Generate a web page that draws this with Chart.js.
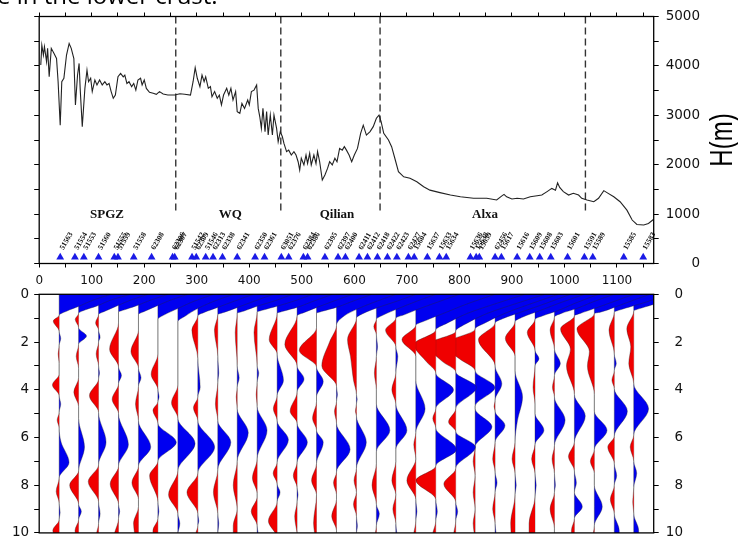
<!DOCTYPE html>
<html>
<head>
<meta charset="utf-8">
<script src="https://cdn.jsdelivr.net/npm/chart.js@4.4.1/dist/chart.umd.min.js"></script>
<style>
  html, body { margin: 0; padding: 0; background: #fff; }
  #wrap { position: relative; width: 738px; height: 548px; overflow: hidden; }
  #wrap canvas { position: absolute; left: 0; top: 0; }
</style>
</head>
<body>
<div id="wrap">
  <canvas id="rfChart" width="738" height="548"></canvas>
  <canvas id="topoChart" width="738" height="548"></canvas>
</div>
<script>
// elevation along the profile
const profileKm = [3, 5, 8, 10, 14, 16, 19, 23, 28, 33, 36, 40, 43, 47, 52, 57, 61, 66, 69, 73, 76, 78, 82, 87, 91, 94, 98, 101, 106, 110,
  115, 120, 125, 129, 133, 137, 141, 145, 150, 155, 160, 163, 167, 171, 176, 180, 184, 188, 193, 196, 200, 204, 210, 217, 223, 229, 236, 245, 258, 268,
  277, 288, 293, 297, 301, 306, 310, 314, 317, 322, 326, 329, 334, 339, 343, 347, 351, 357, 361, 365, 369, 374, 377, 382, 386, 391, 397, 400, 404, 409,
  414, 417, 420, 423, 426, 430, 433, 436, 440, 444, 447, 452, 455, 459, 463, 466, 471, 475, 480, 485, 489, 493, 496, 499, 504, 508, 511, 515, 518, 523,
  527, 530, 534, 539, 544, 549, 553, 558, 563, 567, 572, 577, 581, 585, 590, 595, 600, 606, 612, 617, 623, 630, 636, 642, 647, 651, 656, 665, 671, 678,
  684, 694, 706, 719, 732, 744, 763, 783, 802, 827, 852, 871, 881, 885, 890, 900, 910, 922, 935, 948, 957, 967, 976, 983, 987, 991, 998, 1008, 1017, 1027,
  1033, 1043, 1056, 1065, 1075, 1081, 1094, 1106, 1119, 1129, 1138, 1151, 1160, 1170];
const elevationM = [4020, 4420, 4220, 4390, 4085, 4355, 3780, 4355, 4255, 4150, 3680, 2800, 3680, 3750, 4220, 4455, 4355, 4150, 3210, 3815, 4050, 3545, 2770, 3545, 3915, 3680, 3750, 3480, 3715, 3615,
  3715, 3615, 3680, 3615, 3645, 3480, 3345, 3410, 3780, 3850, 3780, 3815, 3645, 3680, 3580, 3645, 3510, 3715, 3750, 3615, 3715, 3545, 3465, 3445, 3425, 3480, 3430, 3410, 3410, 3435,
  3425, 3410, 3680, 3965, 3750, 3580, 3815, 3680, 3780, 3545, 3580, 3375, 3480, 3345, 3410, 3210, 3410, 3545, 3410, 3545, 3310, 3480, 3075, 3040, 3240, 3140, 3310, 3210, 3480, 3510,
  3615, 3140, 2970, 2735, 3140, 2670, 3075, 2600, 3005, 2600, 3005, 2735, 2465, 2670, 2565, 2430, 2265, 2295, 2195, 2265, 2195, 2060, 1890, 2130, 1995, 2195, 2025, 2230, 1995, 2195,
  2025, 2265, 2060, 1690, 1790, 1925, 2060, 1995, 2130, 2060, 2330, 2295, 2365, 2295, 2195, 2060, 2195, 2330, 2635, 2800, 2600, 2670, 2770, 2940, 3005, 2870, 2635, 2500, 2365, 2095,
  1860, 1755, 1725, 1655, 1555, 1485, 1435, 1385, 1350, 1320, 1320, 1285, 1370, 1400, 1350, 1305, 1320, 1305, 1350, 1370, 1385, 1455, 1520, 1485, 1635, 1540, 1455, 1385, 1420, 1385,
  1320, 1285, 1250, 1320, 1475, 1435, 1350, 1250, 1080, 880, 790, 780, 810, 895];

// seismic stations
const stationNames = ['51563', '51554', '51553', '51560', '51555', '51559', '51558', '62308', '62306', '62307', '51542', '62309', '51546', '62313', '62338', '62341', '62350', '62361', '63051', '62376',
  '62384', '62386', '62395', '62397', '62400', '62411', '62412', '62418', '62422', '62423', '62427', '15604', '15637', '15633', '15634', '15636', '15638', '15639', '62456', '15617',
  '15616', '15609', '15608', '15603', '15601', '15591', '15589', '15585', '15583'];
const stationKm = [40, 68, 85, 113, 143, 150, 180, 214, 254, 258, 291, 299, 317, 331, 349, 377, 411, 429, 461, 475,
  503, 511, 544, 569, 583, 609, 625, 644, 663, 681, 703, 714, 739, 762, 775, 821, 832, 838, 868, 880,
  910, 934, 953, 974, 1006, 1038, 1054, 1113, 1150];

// tectonic units
const boundaryKm = [260, 460, 649, 1040];
const regionNames = ['SPGZ', 'WQ', 'Qilian', 'Alxa'];
const regionKm = [129, 364, 567, 849];

// receiver function bins: distance (km) and [time s, amplitude] samples
const binKm = [38, 75, 113, 151, 189, 226, 264, 302, 340, 377, 415, 453, 491, 528, 566, 604, 642, 679, 717, 755,
  793, 830, 868, 906, 944, 981, 1019, 1057, 1095, 1132];
const rfTraces = [
  [[0, 2.6], [0.25, 1.7], [0.5, 1.0], [0.7, 0.4], [0.88, 0], [1.12, -0.3], [1.55, 0], [1.85, 0.08], [2.15, 0], [2.5, -0.05], [2.9, 0], [3.35, 0], [3.8, -0.34], [4.25, 0], [4.6, 0.08], [4.95, 0], [5.27, -0.1], [5.6, 0], [6.2, 0.1], [7.05, 0.5], [7.7, 0], [8.26, -0.15], [8.75, 0], [9.15, 0.05], [9.45, 0], [9.9, -0.32], [10, -0.3]],
  [[0, 2.6], [0.25, 1.6], [0.5, 0.9], [0.65, 0.35], [0.8, 0], [1.05, -0.17], [1.4, 0], [1.75, 0.4], [2.1, 0], [2.6, -0.12], [3.1, 0], [3.5, 0], [4.1, -0.24], [4.7, 0], [5.2, 0], [6.4, 0.3], [7.4, 0], [8.0, -0.45], [8.8, 0], [9.1, 0.14], [9.45, 0], [9.9, -0.18], [10, -0.17]],
  [[0, 2.5], [0.25, 1.6], [0.5, 0.9], [0.7, 0.35], [0.85, 0], [1.2, -0.15], [1.5, 0], [1.8, 0.08], [2.0, 0], [2.5, -0.12], [3.0, 0], [3.3, 0.05], [3.55, 0], [4.25, -0.46], [4.95, 0], [6.2, 0.38], [7.15, 0], [7.85, -0.52], [8.7, 0], [9.2, 0.08], [9.6, 0], [10, -0.1]],
  [[0, 2.5], [0.25, 1.6], [0.5, 0.85], [0.65, 0.3], [0.75, 0], [1.2, 0], [2.3, -0.45], [3.05, 0], [3.4, 0.15], [3.75, 0], [4.4, -0.32], [5.0, 0], [6.3, 0.5], [7.2, 0], [7.95, -0.42], [8.8, 0], [9.1, 0.06], [9.4, 0], [10, -0.2]],
  [[0, 2.5], [0.25, 1.6], [0.5, 0.9], [0.7, 0.35], [0.85, 0], [1.5, 0], [2.4, -0.38], [3.1, 0], [3.5, 0.13], [3.85, 0], [4.6, -0.15], [5.3, 0], [6.4, 0.62], [7.2, 0], [7.9, -0.33], [8.6, 0], [8.9, 0], [9.6, -0.25], [10, -0.2]],
  [[0, 2.8], [0.3, 1.8], [0.6, 1.0], [0.85, 0.35], [1.05, 0], [2.5, 0], [3.35, -0.34], [4.0, 0], [4.3, 0.06], [4.5, 0], [4.86, -0.25], [5.4, 0], [6.2, 0.93], [7.0, 0], [7.6, -0.42], [8.7, 0], [9.1, 0.05], [9.4, 0], [9.9, -0.25], [10, -0.25]],
  [[0, 2.8], [0.3, 1.8], [0.6, 1.0], [0.9, 0.4], [1.15, 0], [3.8, 0], [4.55, -0.32], [5.2, 0], [6.25, 0.87], [7.4, 0], [8.4, -0.47], [9.2, 0], [9.6, 0.1], [10, 0]],
  [[0, 2.8], [0.3, 1.8], [0.55, 1.0], [0.75, 0.35], [0.9, 0], [1.5, -0.3], [2.7, 0], [3.9, 0.12], [4.3, 0], [4.75, -0.22], [5.3, 0], [6.4, 0.85], [7.5, 0], [8.3, -0.55], [9.2, 0], [9.5, 0.05], [9.7, 0], [10, -0.1]],
  [[0, 2.8], [0.3, 1.8], [0.55, 1.0], [0.75, 0.35], [0.85, 0], [1.5, -0.17], [2.6, 0], [3.3, 0.05], [3.7, 0], [4.6, -0.12], [5.3, 0], [6.2, 0.66], [7.35, 0], [8.3, -0.22], [9.2, 0], [9.6, 0.05], [10, 0]],
  [[0, 2.8], [0.3, 1.8], [0.5, 1.0], [0.7, 0.35], [0.8, 0], [1.6, -0.1], [3.0, 0], [3.5, 0.1], [3.9, 0], [4.3, -0.05], [4.8, 0], [5.8, 0.56], [7.0, 0], [8.0, -0.2], [9.0, 0], [9.7, -0.2], [10, -0.2]],
  [[0, 2.8], [0.3, 1.8], [0.5, 1.0], [0.65, 0.35], [0.75, 0], [1.6, -0.16], [3.0, 0], [3.3, 0.08], [3.7, 0], [4.2, -0.05], [4.7, 0], [5.7, 0.5], [6.9, 0], [7.7, -0.24], [8.35, 0], [8.5, 0], [9.1, -0.3], [9.7, 0], [10, 0.05]],
  [[0, 2.8], [0.3, 1.8], [0.55, 1.0], [0.7, 0.35], [0.8, 0], [1.9, -0.4], [2.5, 0], [3.6, 0.32], [4.25, 0], [4.8, -0.19], [5.3, 0], [6.1, 0.57], [7.05, 0], [7.5, -0.2], [7.95, 0], [8.3, 0.15], [8.7, 0], [9.5, -0.44], [10, -0.1]],
  [[0, 2.8], [0.3, 1.8], [0.55, 1.0], [0.75, 0.4], [0.9, 0], [2.1, -0.62], [3.0, 0], [3.55, 0.35], [4.1, 0], [4.9, -0.35], [5.4, 0], [6.2, 0.52], [7.05, 0], [7.6, -0.19], [8.1, 0], [8.4, 0.05], [8.7, 0], [9.3, -0.12], [10, 0]],
  [[0, 2.8], [0.3, 1.8], [0.55, 1.0], [0.7, 0.35], [0.8, 0], [1.4, 0], [2.35, -0.87], [3.05, 0], [3.65, 0.34], [4.3, 0], [4.5, 0], [5.2, -0.2], [5.7, 0], [6.2, 0.34], [7.1, 0], [7.8, -0.25], [8.4, 0], [9.6, -0.15], [10, -0.1]],
  [[0, 3.0], [0.3, 2.0], [0.6, 1.1], [0.9, 0.4], [1.3, 0], [2.0, -0.35], [3.0, -0.74], [3.85, 0], [4.2, 0.05], [4.5, 0], [4.9, -0.1], [5.4, 0], [6.5, 0.69], [7.45, 0], [7.9, -0.15], [8.4, 0], [8.6, 0], [9.3, -0.24], [9.9, 0], [10, 0]],
  [[0, 3.0], [0.3, 2.0], [0.55, 1.1], [0.8, 0.35], [1.0, 0], [1.9, -0.45], [2.6, -0.3], [3.6, -0.15], [4.2, 0], [4.4, 0.04], [4.6, 0], [4.9, -0.05], [5.1, 0], [6.2, 0.5], [7.3, 0], [7.8, -0.12], [8.3, 0], [8.8, -0.15], [9.3, 0], [9.7, 0.05], [10, 0]],
  [[0, 3.0], [0.3, 2.0], [0.6, 1.1], [0.85, 0.4], [1.05, 0], [1.35, -0.13], [1.7, 0], [2.2, 0.06], [2.6, 0], [3.3, -0.1], [4.0, 0], [4.6, 0], [5.7, 0.68], [6.6, 0], [7.1, 0], [8.0, -0.22], [8.8, 0], [9.2, 0.15], [9.7, 0], [10, -0.05]],
  [[0, 3.2], [0.3, 2.2], [0.6, 1.2], [0.85, 0.45], [1.0, 0], [1.5, -0.52], [2.2, 0], [2.6, 0.1], [3.3, 0], [4.0, -0.2], [4.6, 0], [5.7, 0.56], [6.5, 0], [7.0, 0], [7.8, -0.2], [8.4, 0], [9.0, -0.15], [9.6, 0], [10, 0.05]],
  [[0, 4.0], [0.4, 2.6], [0.8, 1.4], [1.1, 0.5], [1.3, 0], [1.9, -0.7], [2.6, 0], [3.6, 0], [4.8, 0.47], [5.8, 0], [6.3, -0.1], [6.9, 0], [7.8, -0.45], [8.6, 0], [9.1, 0.06], [9.5, 0], [10, -0.1]],
  [[0, 4.5], [0.4, 3.0], [0.8, 1.6], [1.2, 0.6], [1.5, 0], [2.1, -1.1], [2.8, -0.5], [3.3, 0], [4.0, 0.9], [4.8, 0], [5.2, -0.15], [5.6, 0], [6.5, 1.05], [7.2, 0], [7.8, -1.0], [8.6, 0], [9.1, 0.08], [9.5, 0], [10, -0.15]],
  [[0, 4.5], [0.4, 3.0], [0.8, 1.6], [1.2, 0.6], [1.55, 0], [2.1, -1.4], [2.8, -0.7], [3.25, 0], [3.9, 1.05], [4.8, 0], [5.35, -0.36], [5.75, 0], [6.4, 1.0], [7.3, 0], [7.95, -0.6], [8.7, 0], [9.1, 0.1], [9.5, 0], [10, -0.1]],
  [[0, 4.2], [0.4, 2.8], [0.8, 1.5], [1.2, 0.5], [1.45, 0], [2.1, -1.6], [2.7, -0.8], [3.2, 0], [3.9, 1.0], [4.7, 0], [4.8, 0], [5.55, 0.85], [6.4, 0], [7.0, -0.1], [7.6, 0], [8.3, -0.1], [9.0, 0], [9.6, -0.1], [10, -0.05]],
  [[0, 3.8], [0.4, 2.5], [0.75, 1.3], [1.0, 0.45], [1.2, 0], [1.9, -0.84], [3.0, 0], [3.75, 0.34], [4.45, 0], [4.7, -0.05], [4.9, 0], [5.5, 0.5], [6.2, 0], [6.9, -0.12], [7.45, 0], [7.9, 0.1], [8.3, 0], [9.0, -0.12], [9.6, 0], [10, 0.05]],
  [[0, 3.5], [0.35, 2.3], [0.7, 1.2], [0.95, 0.4], [1.15, 0], [1.85, -0.49], [2.6, 0], [3.2, 0], [4.3, 0.38], [5.3, 0.12], [6.2, 0], [6.9, -0.15], [7.5, 0], [8.0, 0.06], [8.4, 0], [9.6, -0.22], [10, -0.2]],
  [[0, 3.2], [0.35, 2.1], [0.7, 1.1], [0.9, 0.4], [1.05, 0], [1.6, -0.39], [2.35, 0], [2.7, 0.2], [3.0, 0], [3.9, -0.1], [4.6, 0], [5.0, 0], [5.7, 0.45], [6.3, 0], [6.9, -0.17], [7.5, 0], [8.0, 0.06], [8.5, 0], [9.6, -0.3], [10, -0.3]],
  [[0, 3.0], [0.3, 2.0], [0.6, 1.1], [0.8, 0.35], [0.95, 0], [1.5, -0.22], [2.3, 0], [2.9, 0.3], [3.4, 0], [3.9, -0.1], [4.3, 0], [5.27, 0.54], [6.35, 0], [6.9, -0.12], [7.5, 0], [8.0, 0.05], [8.3, 0], [9.0, -0.22], [9.8, 0], [10, 0]],
  [[0, 3.0], [0.3, 2.0], [0.6, 1.0], [0.8, 0.3], [0.9, 0], [1.45, -0.7], [2.3, -0.2], [3.0, -0.4], [4.2, 0], [5.1, 0.55], [6.2, 0], [6.8, -0.3], [7.4, 0], [7.9, 0.1], [8.3, 0], [8.9, 0.4], [9.4, 0], [9.9, -0.15], [10, -0.15]],
  [[0, 2.8], [0.3, 1.8], [0.55, 1.0], [0.75, 0.3], [0.8, 0], [1.45, -0.88], [2.4, -0.25], [3.0, -0.35], [4.2, 0], [4.9, 0], [5.7, 0.64], [6.5, 0], [7.0, -0.2], [7.5, 0], [8.0, 0], [8.9, 0.4], [9.7, 0], [10, -0.05]],
  [[0, 2.6], [0.3, 1.7], [0.5, 0.9], [0.65, 0.3], [0.75, 0], [1.5, -0.27], [2.5, 0], [2.9, 0.1], [3.2, 0], [3.6, -0.12], [3.95, 0], [4.9, 0.66], [5.95, 0], [6.4, -0.33], [7.1, 0], [7.6, 0.12], [8.0, 0], [8.6, -0.2], [9.2, 0], [9.9, 0.25], [10, 0.25]],
  [[0, 2.5], [0.25, 1.6], [0.45, 0.9], [0.6, 0.3], [0.7, 0], [1.45, -0.35], [2.2, -0.15], [2.9, -0.25], [3.75, 0], [4.8, 0.75], [5.9, 0], [6.4, -0.18], [7.0, 0], [7.5, 0.15], [8.1, 0], [8.7, -0.05], [9.2, 0], [9.9, 0.25], [10, 0.25]]
];

const ampKm = 37.7;        // one amplitude unit = one bin spacing
const stationLevel = 125;  // marker height on the elevation axis
const dashBottom = 1050;
const labelLevel = 990;

Chart.defaults.font.family = '"DejaVu Sans", sans-serif';
Chart.defaults.color = '#111';

const frame = {
  id: 'frame',
  afterDraw(chart) {
    const {ctx, chartArea: a} = chart;
    ctx.save();
    ctx.strokeStyle = '#000';
    ctx.lineWidth = 1.3;
    ctx.strokeRect(a.left, a.top, a.right - a.left, a.bottom - a.top);
    ctx.restore();
  }
};

const topoLabels = {
  id: 'topoLabels',
  afterDatasetsDraw(chart) {
    const {ctx, scales: {x, y}} = chart;
    ctx.save();
    ctx.fillStyle = '#111';
    ctx.font = 'bold 13px "Liberation Serif"';
    ctx.textAlign = 'center';
    ctx.textBaseline = 'middle';
    regionNames.forEach((name, i) => {
      ctx.fillText(name, x.getPixelForValue(regionKm[i]), y.getPixelForValue(labelLevel));
    });

    ctx.font = 'bold 7.5px "Liberation Serif"';
    ctx.fillStyle = '#111';
    ctx.textAlign = 'left';
    stationNames.forEach((name, i) => {
      ctx.save();
      ctx.translate(x.getPixelForValue(stationKm[i]) + 1.5, y.getPixelForValue(stationLevel) - 8);
      ctx.rotate(-Math.PI / 3);
      ctx.fillText(name, 0, 0);
      ctx.restore();
    });
    ctx.restore();
  },
  afterDraw(chart) {
    const ctx = chart.ctx;
    ctx.save();
    ctx.fillStyle = '#000';
    ctx.font = '24px "Open Sans"';
    ctx.textAlign = 'left';
    ctx.textBaseline = 'alphabetic';
    ctx.fillText('e in the lower crust.', -3, 4);

    ctx.translate(723, 140);
    ctx.scale(1.3, 1);
    ctx.rotate(-Math.PI / 2);
    ctx.font = '24px "Liberation Sans"';
    ctx.textAlign = 'center';
    ctx.textBaseline = 'middle';
    ctx.fillText('H(m)', 0, 0);
    ctx.restore();
  }
};

const tickGrid = len => ({ drawOnChartArea: false, drawTicks: true, tickLength: len, color: '#000', lineWidth: 1 });

// top panel: elevation
new Chart(document.getElementById('topoChart'), {
  type: 'scatter',
  data: {
    datasets: [
      {
        data: profileKm.map((d, i) => ({x: d, y: elevationM[i]})),
        showLine: true, borderColor: '#222', borderWidth: 1.1, pointRadius: 0, tension: 0
      },
      ...boundaryKm.map(d => ({
        data: [{x: d, y: 5000}, {x: d, y: dashBottom}],
        showLine: true, borderColor: '#333', borderWidth: 1.4, borderDash: [7, 4], pointRadius: 0
      })),
      {
        data: stationKm.map(d => ({x: d, y: stationLevel})),
        pointStyle: 'triangle', pointRadius: 4.5, backgroundColor: '#1a1ae6', borderWidth: 0
      }
    ]
  },
  options: {
    responsive: false,
    animation: false,
    events: [],
    layout: { padding: { top: 10.5, bottom: 259.5, left: 0, right: 38 } },
    plugins: { legend: { display: false }, tooltip: { enabled: false } },
    scales: {
      x: {
        type: 'linear', position: 'bottom', min: 0, max: 1170,
        border: { display: false },
        grid: tickGrid(4),
        ticks: {
          stepSize: 50, includeBounds: false, autoSkip: false, maxRotation: 0, minRotation: 0,
          padding: 6, font: { size: 12 },
          callback: v => (v % 100 === 0 ? v : '')
        },
        afterFit: s => { s.height = 25; }
      },
      x2: {
        type: 'linear', position: 'top', min: 0, max: 1170,
        border: { display: false },
        grid: tickGrid(4),
        ticks: { stepSize: 50, includeBounds: false, autoSkip: false, maxRotation: 0, callback: () => '' },
        afterFit: s => { s.height = 6; }
      },
      y: {
        type: 'linear', position: 'left', min: 0, max: 5000,
        border: { display: false },
        grid: tickGrid(5),
        ticks: { stepSize: 500, callback: () => '' },
        afterFit: s => { s.width = 39.2; }
      },
      y2: {
        type: 'linear', position: 'right', min: 0, max: 5000,
        border: { display: false },
        grid: tickGrid(5),
        ticks: {
          stepSize: 500, padding: 7, crossAlign: 'far', font: { size: 13.5 },
          callback: v => (v % 1000 === 0 ? v : '')
        },
        afterFit: s => { s.width = 46.3; }
      }
    }
  },
  plugins: [frame, topoLabels]
});

// bottom panel: receiver function wiggles
const rfDatasets = [];
rfTraces.forEach((trace, i) => {
  const base = binKm[i];
  const common = {
    fill: { value: base }, pointRadius: 0, borderWidth: 0.6,
    borderColor: 'rgba(40,40,40,0.6)', cubicInterpolationMode: 'monotone'
  };
  rfDatasets.push({
    ...common, backgroundColor: '#f00000',
    data: trace.map(([t, a]) => ({x: base + Math.min(a, 0) * ampKm, y: t}))
  });
  rfDatasets.push({
    ...common, backgroundColor: '#0000f0',
    data: trace.map(([t, a]) => ({x: base + Math.max(a, 0) * ampKm, y: t}))
  });
});

new Chart(document.getElementById('rfChart'), {
  type: 'line',
  data: { datasets: rfDatasets },
  options: {
    indexAxis: 'y',
    responsive: false,
    animation: false,
    events: [],
    layout: { padding: { top: 294.3, bottom: 8.7, left: 0, right: 55 } },
    plugins: { legend: { display: false }, tooltip: { enabled: false } },
    scales: {
      x: { type: 'linear', min: 0, max: 1170, display: false },
      y: {
        type: 'linear', position: 'left', min: 0, max: 10, reverse: true,
        border: { display: false },
        grid: tickGrid(5),
        ticks: { stepSize: 1, padding: 5, font: { size: 13.5 }, callback: v => (v % 2 === 0 ? v : '') },
        afterFit: s => { s.width = 39.2; }
      },
      y2: {
        type: 'linear', position: 'right', min: 0, max: 10, reverse: true,
        border: { display: false },
        grid: tickGrid(5),
        ticks: { stepSize: 1, padding: 7, crossAlign: 'far', font: { size: 13.5 }, callback: v => (v % 2 === 0 ? v : '') },
        afterFit: s => { s.width = 29.3; }
      }
    }
  },
  plugins: [frame]
});
</script>
</body>
</html>
